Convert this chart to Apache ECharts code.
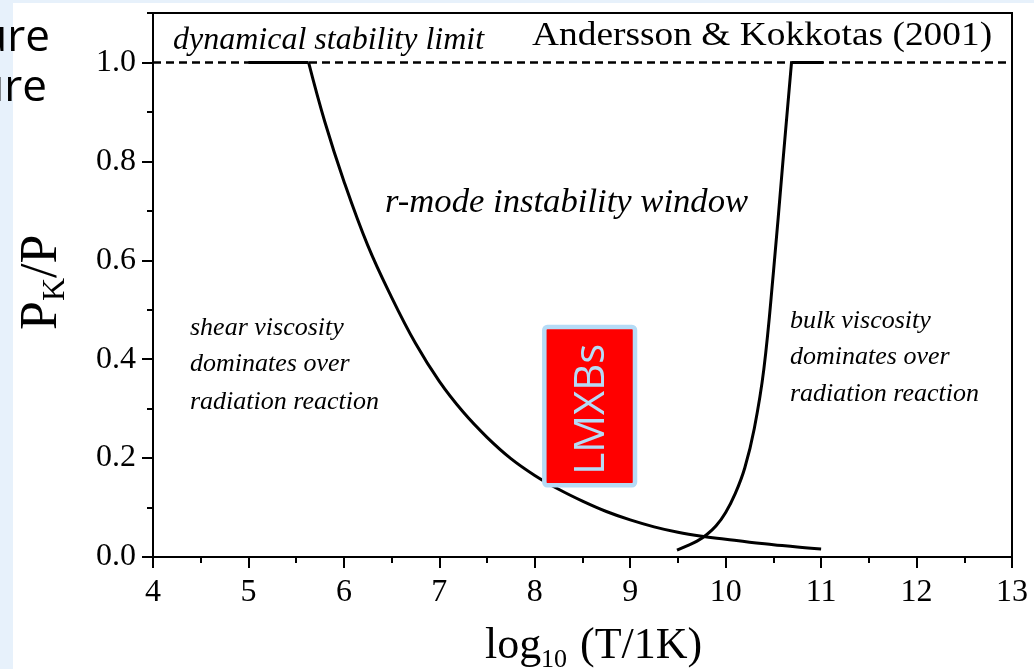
<!DOCTYPE html>
<html>
<head>
<meta charset="utf-8">
<title>r-mode instability window</title>
<script src="https://cdn.jsdelivr.net/npm/echarts@6/dist/echarts.min.js"></script>
<style>
  html, body { margin: 0; padding: 0; background: #e7f1fb; }
  #sheet { position: absolute; left: 13px; top: 3px; width: 1021px; height: 666px; background: #ffffff; }
  #chart { position: absolute; left: 0; top: 0; width: 1034px; height: 669px; }
</style>
</head>
<body>
<div id="sheet"></div>
<div id="chart"></div>
<script>
// Axis ticks
const xTicks = [4, 5, 6, 7, 8, 9, 10, 11, 12, 13];
const yTicks = [0, 0.2, 0.4, 0.6, 0.8, 1.0];
const yMinorTicks = [0.1, 0.3, 0.5, 0.7, 0.9, 1.1];

// Dynamical stability limit, P_K/P = 1
const limitLogT = [4, 13];
const limitRatio = [1.0, 1.0];

// Shear viscosity boundary (low temperature side)
const shearLogT = [5.0, 5.63, 5.8, 6.0, 6.25, 6.5, 6.75, 7.0, 7.25, 7.5, 7.75, 8.0, 8.25, 8.5, 8.75, 9.0, 9.25, 9.5, 9.75, 10.0, 10.25, 10.5, 10.75, 11.0];
const shearRatio = [1.0, 1.0, 0.88, 0.76, 0.63, 0.525, 0.432, 0.355, 0.293, 0.242, 0.199, 0.165, 0.137, 0.113, 0.092, 0.075, 0.061, 0.05, 0.042, 0.036, 0.03, 0.025, 0.02, 0.016];

// Bulk viscosity boundary (high temperature side)
const bulkLogT = [9.49, 9.6, 9.7, 9.8, 9.9, 10.0, 10.1, 10.2, 10.3, 10.4, 10.5, 10.6, 10.69, 11.02];
const bulkRatio = [0.014, 0.023, 0.032, 0.045, 0.063, 0.09, 0.128, 0.18, 0.26, 0.38, 0.575, 0.8, 1.0, 1.0];

// LMXB region: log T range and P_K/P range
const lmxbLogT = [8.1, 9.05];
const lmxbRatio = [0.145, 0.465];

const serif = '"Liberation Serif", "Times New Roman", serif';

function pairs(xs, ys, from, to) {
  const out = [];
  for (let i = from; i < to; i++) out.push([xs[i], ys[i]]);
  return out;
}

const chart = echarts.init(document.getElementById('chart'), null, { renderer: 'canvas' });

const curveStyle = { color: '#000', width: 3 };

function label(text, x, y, font, extra) {
  return Object.assign({
    type: 'text', x: x, y: y, z: 10,
    style: { text: text, font: font, fill: '#000', align: 'left', verticalAlign: 'middle' }
  }, extra || {});
}

const option = {
  backgroundColor: 'transparent',
  animation: false,
  grid: {
    left: 153, right: 22, top: 13, bottom: 112,
    show: true, borderColor: '#000', borderWidth: 2,
    backgroundColor: 'transparent',
    outerBoundsMode: 'none'
  },
  xAxis: {
    type: 'value', min: xTicks[0], max: xTicks[xTicks.length - 1], interval: 1,
    axisLine: { onZero: false, lineStyle: { color: '#000', width: 2 } },
    axisTick: { show: true, inside: false, length: 11, lineStyle: { color: '#000', width: 2 } },
    minorTick: { show: true, splitNumber: 2, length: 6, lineStyle: { color: '#000', width: 2 } },
    axisLabel: { color: '#000', fontFamily: serif, fontSize: 32, margin: 20 },
    splitLine: { show: false }
  },
  yAxis: [
    {
      type: 'value', min: 0, max: 1.1,
      axisLine: { show: true, onZero: false, lineStyle: { color: '#000', width: 2 } },
      axisTick: { show: true, inside: false, length: 11, customValues: yTicks, lineStyle: { color: '#000', width: 2 } },
      axisLabel: { customValues: yTicks, color: '#000', fontFamily: serif, fontSize: 32, margin: 17,
                   formatter: v => v.toFixed(1) },
      splitLine: { show: false }
    },
    {
      type: 'value', min: 0, max: 1.1, position: 'left',
      axisLine: { show: false },
      axisTick: { show: true, inside: false, length: 6, customValues: yMinorTicks, lineStyle: { color: '#000', width: 2 } },
      axisLabel: { show: false },
      splitLine: { show: false }
    }
  ],
  series: [
    {
      name: 'dynamical stability limit', type: 'line', symbol: 'none', z: 2,
      data: pairs(limitLogT, limitRatio, 0, limitLogT.length),
      lineStyle: { color: '#000', width: 2.5, type: [8, 5] }
    },
    {
      name: 'shear plateau', type: 'line', symbol: 'none', z: 3,
      data: pairs(shearLogT, shearRatio, 0, 2),
      lineStyle: curveStyle
    },
    {
      name: 'shear viscosity', type: 'line', symbol: 'none', z: 3,
      smooth: 0.4,
      data: pairs(shearLogT, shearRatio, 1, shearLogT.length),
      lineStyle: curveStyle
    },
    {
      name: 'bulk viscosity', type: 'line', symbol: 'none', z: 3,
      smooth: 0.4,
      data: pairs(bulkLogT, bulkRatio, 0, bulkLogT.length - 1),
      lineStyle: curveStyle
    },
    {
      name: 'bulk plateau', type: 'line', symbol: 'none', z: 3,
      data: pairs(bulkLogT, bulkRatio, bulkLogT.length - 2, bulkLogT.length),
      lineStyle: curveStyle
    },
    {
      name: 'LMXBs', type: 'custom', z: 5,
      encode: { x: [0, 1], y: [2, 3] },
      data: [[lmxbLogT[0], lmxbLogT[1], lmxbRatio[0], lmxbRatio[1]]],
      renderItem: function (params, api) {
        const tl = api.coord([api.value(0), api.value(3)]);
        const br = api.coord([api.value(1), api.value(2)]);
        return {
          type: 'group',
          children: [
            {
              type: 'rect',
              shape: { x: tl[0], y: tl[1], width: br[0] - tl[0], height: br[1] - tl[1], r: 3 },
              style: { fill: '#ff0000', stroke: '#b5dbf6', lineWidth: 4.5 }
            },
            {
              type: 'text',
              x: (tl[0] + br[0]) / 2 + 2, y: (tl[1] + br[1]) / 2 + 3,
              rotation: Math.PI / 2,
              style: { text: 'LMXBs', font: '42px "Open Sans"', fill: '#b5dbf6',
                       align: 'center', verticalAlign: 'middle' }
            }
          ]
        };
      }
    }
  ],
  graphic: [
    // cropped caption words at the left edge
    { type: 'text', x: 50, y: 38, z: 20,
      style: { text: 'ure', font: '44px "Open Sans"', fill: '#000', align: 'right', verticalAlign: 'middle' } },
    { type: 'text', x: 47, y: 88, z: 20,
      style: { text: 'ure', font: '44px "Open Sans"', fill: '#000', align: 'right', verticalAlign: 'middle' } },

    label('dynamical stability limit', 173, 41, 'italic 32px ' + serif),
    label('Andersson & Kokkotas (2001)', 532, 36, '34px ' + serif, { scaleX: 1.1 }),
    label('r-mode instability window', 385, 203, 'italic 33px ' + serif, { scaleX: 1.05 }),

    label('shear viscosity', 190, 328, 'italic 25px ' + serif, { scaleX: 1.04 }),
    label('dominates over', 190, 364, 'italic 25px ' + serif, { scaleX: 1.04 }),
    label('radiation reaction', 190, 402, 'italic 25px ' + serif, { scaleX: 1.04 }),

    label('bulk viscosity', 790, 321, 'italic 25px ' + serif, { scaleX: 1.04 }),
    label('dominates over', 790, 357, 'italic 25px ' + serif, { scaleX: 1.04 }),
    label('radiation reaction', 790, 394, 'italic 25px ' + serif, { scaleX: 1.04 }),

    // y axis title: P_K / P, reading upwards
    { type: 'group', x: 42, y: 330, rotation: Math.PI / 2, z: 10,
      children: [
        label('P', 0, 0, '52px ' + serif),
        label('K', 29, 14, '32px ' + serif),
        label('/P', 52, 0, '52px ' + serif)
      ] },

    // x axis title: log10 (T/1K)
    label('log', 485, 646, '44px ' + serif),
    label('10', 541, 660, '26px ' + serif),
    label('(T/1K)', 580, 646, '44px ' + serif)
  ]
};

chart.setOption(option);
</script>
</body>
</html>
